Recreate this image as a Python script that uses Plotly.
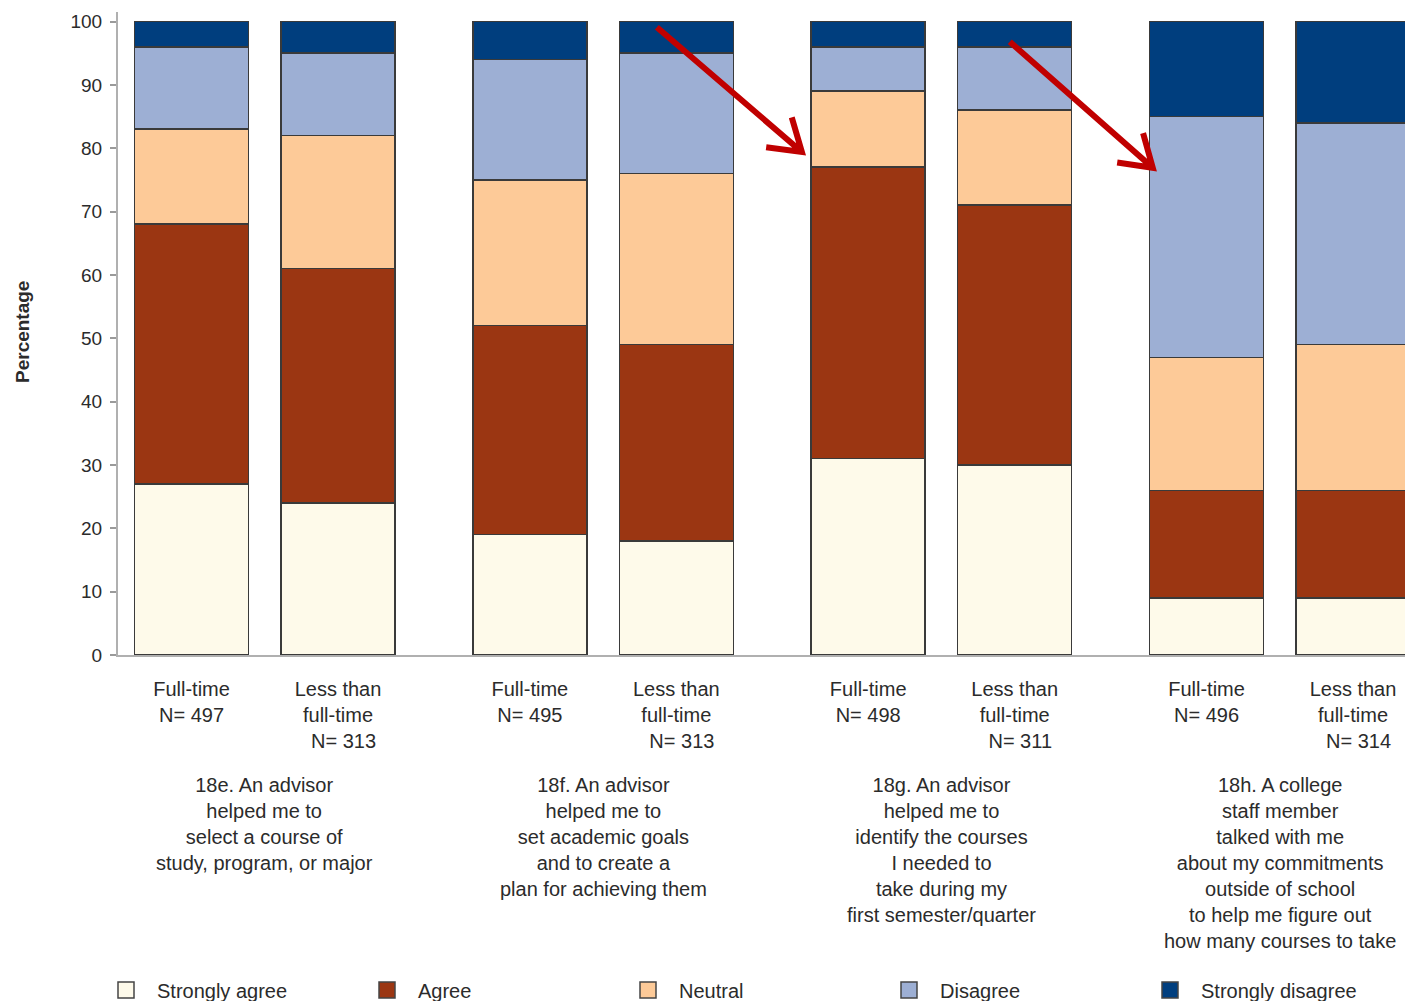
import math
import plotly.graph_objects as go

# ---- data ----
group_labels = [
    "18e. An advisor<br>helped me to<br>select a course of<br>study, program, or major",
    "18f. An advisor<br>helped me to<br>set academic goals<br>and to create a<br>plan for achieving them",
    "18g. An advisor<br>helped me to<br>identify the courses<br>I needed to<br>take during my<br>first semester/quarter",
    "18h. A college<br>staff member<br>talked with me<br>about my commitments<br>outside of school<br>to help me figure out<br>how many courses to take",
]
bar_labels = [
    "Full-time<br>N= 497", "Less than<br>full-time<br>\u00a0\u00a0N= 313",
    "Full-time<br>N= 495", "Less than<br>full-time<br>\u00a0\u00a0N= 313",
    "Full-time<br>N= 498", "Less than<br>full-time<br>\u00a0\u00a0N= 311",
    "Full-time<br>N= 496", "Less than<br>full-time<br>\u00a0\u00a0N= 314",
]
categories = ["Strongly agree", "Agree", "Neutral", "Disagree", "Strongly disagree"]
strongly_agree = [27, 24, 19, 18, 31, 30, 9, 9]
agree = [41, 37, 33, 31, 46, 41, 17, 17]
neutral = [15, 21, 23, 27, 12, 15, 21, 23]
disagree = [13, 13, 19, 19, 7, 10, 38, 35]
strongly_disagree = [4, 5, 6, 5, 4, 4, 15, 16]
series = [strongly_agree, agree, neutral, disagree, strongly_disagree]
colors = ["#FEFAEA", "#9B3612", "#FDCA98", "#9DAFD4", "#003E7E"]

# ---- layout helpers ----
W, H = 1405, 1001
ML, MR, MT, MB = 118, 0, 12, 346
bars_per_group = 2
group_pitch = 2.31
xpos = [g * group_pitch + m for g in range(len(group_labels)) for m in range(bars_per_group)]
group_centers = [g * group_pitch + (bars_per_group - 1) / 2 for g in range(len(group_labels))]
xrange_ = [-0.502, 8.285]
yrange_ = [0, 101.5]
plot_w = W - ML - MR
plot_h = H - MT - MB
px_x = plot_w / (xrange_[1] - xrange_[0])
px_y = plot_h / (yrange_[1] - yrange_[0])
axis_bottom = MT + plot_h

text_color = "#2b2b2b"
font_family = "Liberation Sans, Arial, sans-serif"

fig = go.Figure()
for name, vals, col in zip(categories, series, colors):
    fig.add_trace(go.Bar(
        x=xpos, y=vals, name=name, width=0.778,
        marker=dict(color=col, line=dict(color="#3a3a3a", width=1.5)),
        showlegend=False, hoverinfo="skip",
    ))
for name, col in zip(categories, colors):
    fig.add_trace(go.Scatter(
        x=[None], y=[None], mode="markers", name=name, hoverinfo="skip",
        marker=dict(symbol="square", size=16, color=col, line=dict(color="#444", width=1.5)),
    ))

annotations = []
for gc, lab in zip(group_centers, group_labels):
    annotations.append(dict(
        x=gc, xref="x", y=-(772 - axis_bottom) / plot_h,
        yref="paper", text=lab, showarrow=False, xanchor="center", yanchor="top",
        align="center", font=dict(size=20, color=text_color, family=font_family),
    ))
annotations.append(dict(
    x=(22 - ML) / plot_w, xref="paper", y=(axis_bottom - 332) / plot_h, yref="paper",
    text="<b>Percentage</b>", textangle=-90, showarrow=False,
    xanchor="center", yanchor="middle", font=dict(size=19, color=text_color, family=font_family),
))

# arrows (tail -> tip, data coords)
arrow_tails = [(3.177, 99.1), (5.587, 96.8)]
arrow_tips = [(4.167, 79.4), (6.563, 76.9)]
shapes = []
for (tx, ty), (hx, hy) in zip(arrow_tails, arrow_tips):
    dx = (tx - hx) * px_x
    dy = (ty - hy) * px_y
    L = math.hypot(dx, dy)
    ux, uy = dx / L, dy / L
    arm = 36
    ang = math.radians(33)
    a1 = (arm * (ux * math.cos(ang) - uy * math.sin(ang)), arm * (ux * math.sin(ang) + uy * math.cos(ang)))
    a2 = (arm * (ux * math.cos(-ang) - uy * math.sin(-ang)), arm * (ux * math.sin(-ang) + uy * math.cos(-ang)))
    path = (f"M{dx:.1f},{dy:.1f} L{ux*3:.1f},{uy*3:.1f} "
            f"M{a1[0]:.1f},{a1[1]:.1f} L0,0 L{a2[0]:.1f},{a2[1]:.1f}")
    shapes.append(dict(
        type="path", xref="x", yref="y", xsizemode="pixel", ysizemode="pixel",
        xanchor=hx, yanchor=hy, path=path,
        line=dict(color="#C00000", width=6),
    ))

fig.update_layout(
    width=W, height=H,
    margin=dict(l=ML, r=MR, t=MT, b=MB, pad=0, autoexpand=False),
    paper_bgcolor="white", plot_bgcolor="white",
    barmode="stack", hovermode=False,
    font=dict(family=font_family, color=text_color, size=20),
    xaxis=dict(
        range=xrange_, tickvals=xpos, ticktext=bar_labels, ticks="",
        showline=True, linecolor="#b0b0b0", linewidth=2, showgrid=False, zeroline=False,
        tickfont=dict(size=20, color=text_color), tickangle=0, ticklabelstandoff=15,
        automargin=False,
    ),
    yaxis=dict(
        range=yrange_, tickvals=list(range(0, 101, 10)), ticks="outside", ticklen=6,
        tickcolor="#9a9a9a", tickwidth=1.5, showline=True, linecolor="#b0b0b0", linewidth=2,
        showgrid=False, zeroline=False, tickfont=dict(size=19, color=text_color),
        ticklabelstandoff=4, automargin=False,
    ),
    legend=dict(
        orientation="h", x=(95 - ML) / plot_w, xanchor="left",
        y=-(990 - axis_bottom) / plot_h, yanchor="middle",
        itemwidth=52, entrywidth=194, entrywidthmode="pixels", traceorder="normal",
        font=dict(size=20, color=text_color), bgcolor="rgba(0,0,0,0)",
    ),
    annotations=annotations,
    shapes=shapes,
)

fig.write_html("out.html", config={"displayModeBar": False},
               post_script="document.body.style.margin='0';")
